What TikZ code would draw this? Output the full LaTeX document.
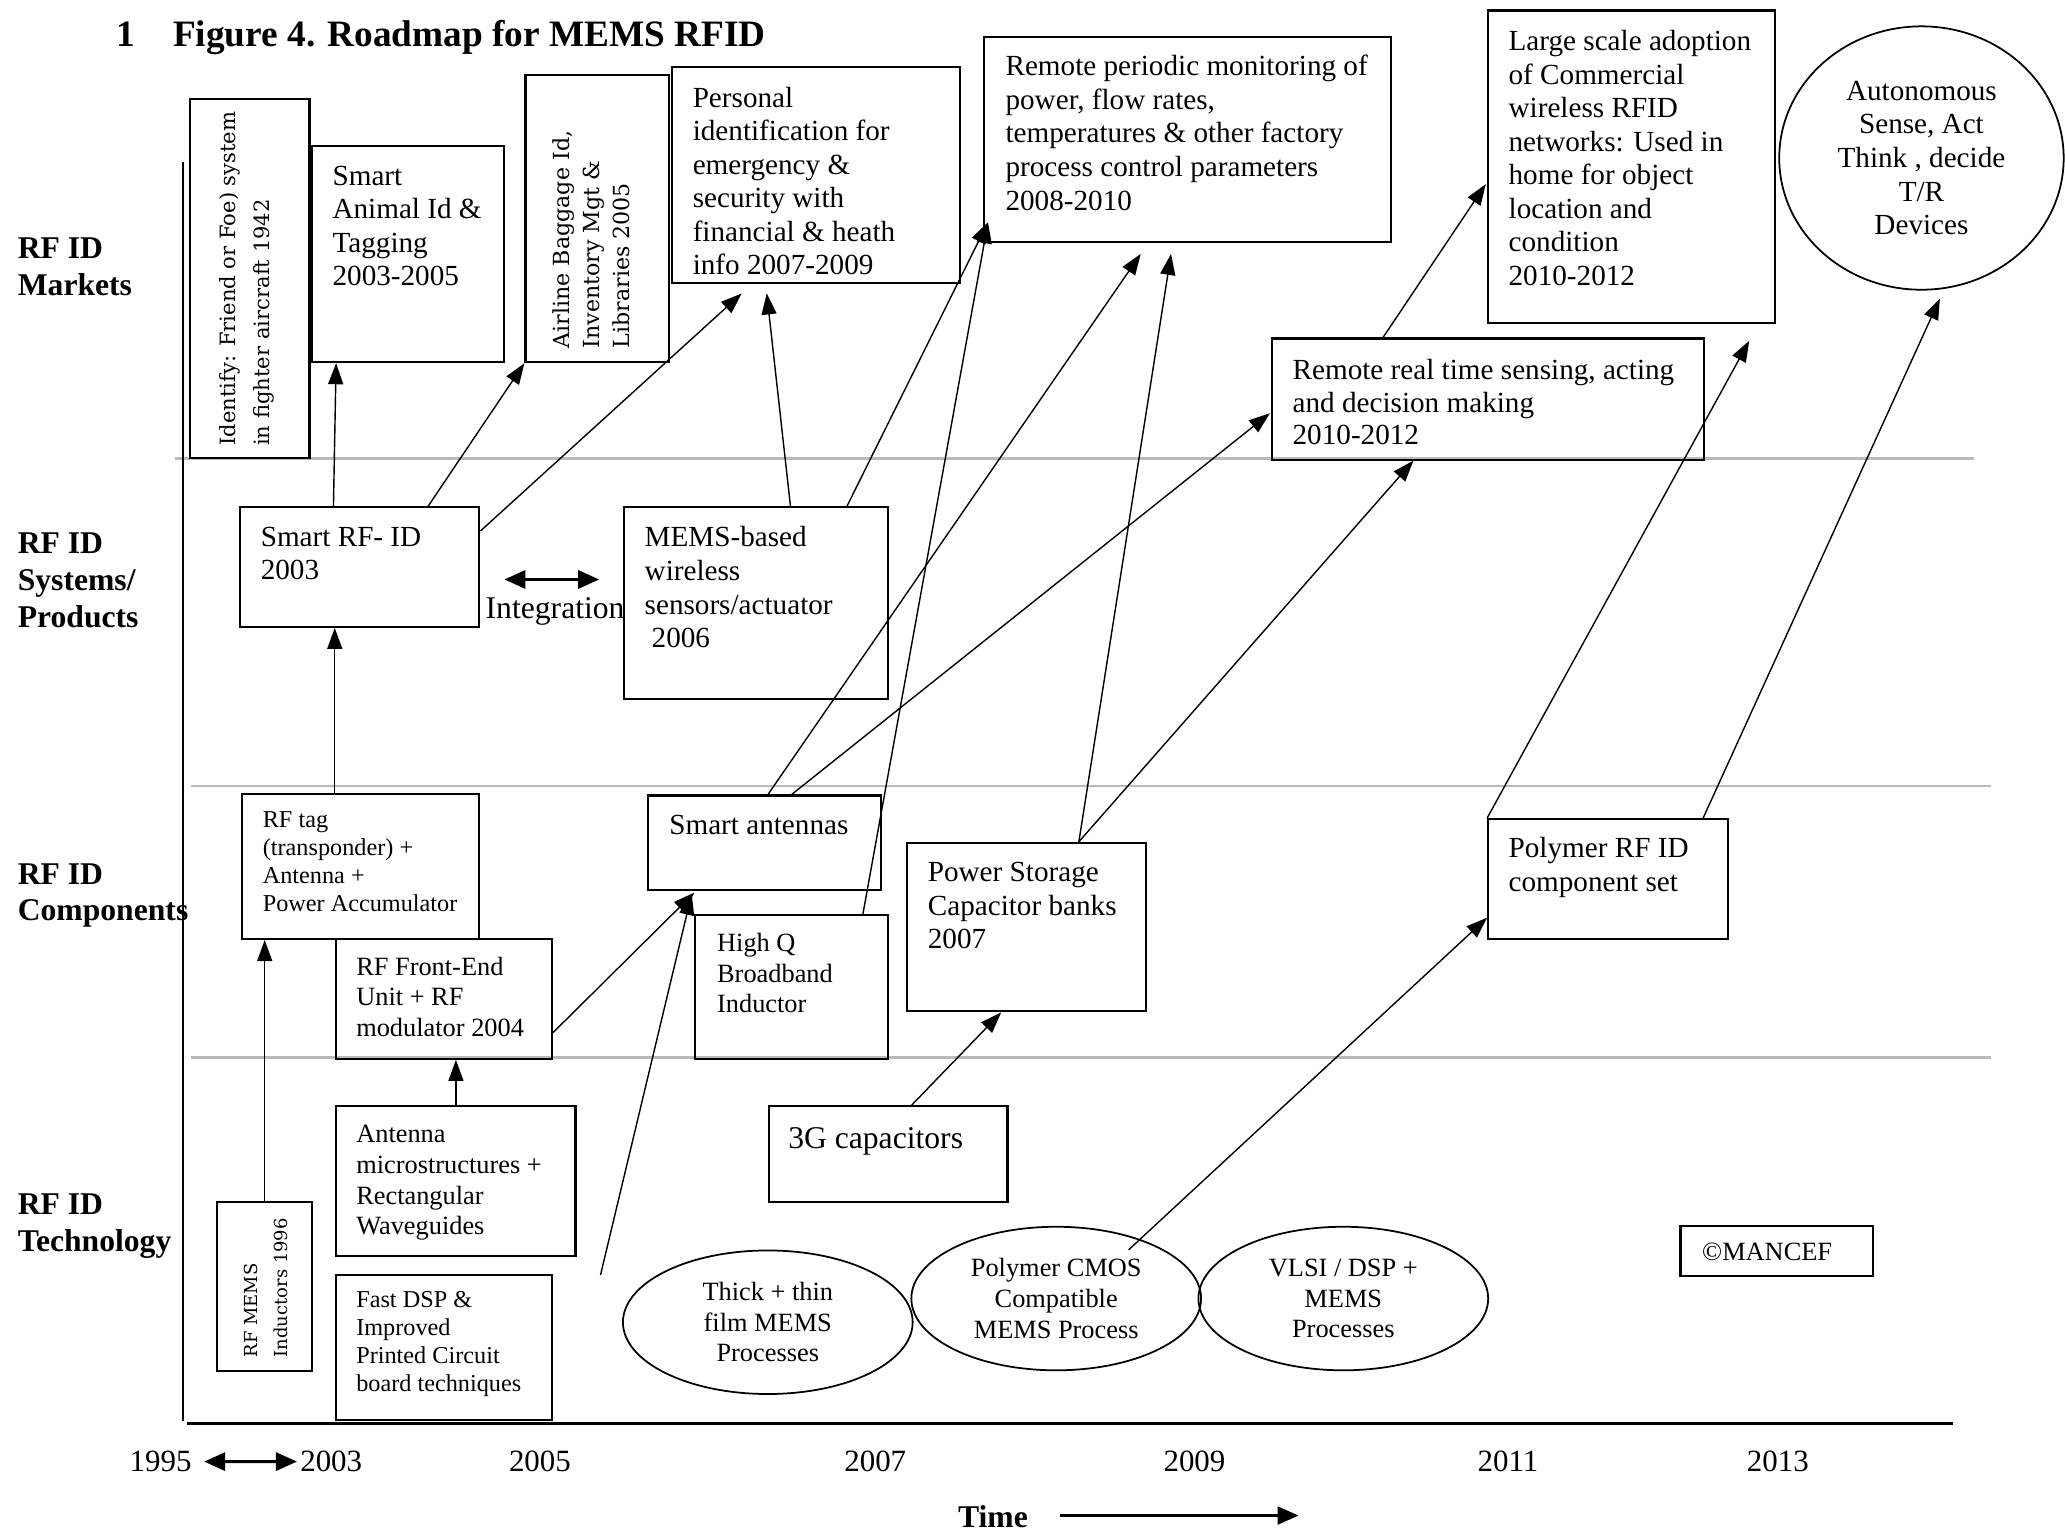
\documentclass[tikz,border=0pt]{standalone}
\usepackage{fontspec}
\setmainfont{Liberation Serif}
\newfontfamily\rotserif{DejaVu Serif}
\usetikzlibrary{arrows.meta,calc,fit,shapes.geometric}

\newcommand{\pxu}{0.013169cm}
\newcommand{\txtbody}{\fontsize{8.3}{9.55}\selectfont}
\newcommand{\txtmid}{\fontsize{7.5}{8.7}\selectfont}
\newcommand{\txtsmall}{\fontsize{6.9}{8}\selectfont}
\newcommand{\txtbig}{\fontsize{9}{10.5}\selectfont}
\newcommand{\txtrot}{\rotserif\fontsize{6}{9.7}\selectfont}

\begin{document}
\begin{tikzpicture}[x=0.013169cm, y=-0.013169cm,
	box/.style={draw, line width=0.6pt, inner sep=0pt},
	oval/.style={draw, ellipse, line width=0.5pt, inner sep=0pt, minimum width=220*\pxu, minimum height=109*\pxu, align=center, font=\txtmid},
	txt/.style={anchor=north west, align=left, inner sep=0pt, font=\txtbody},
	rot/.style={anchor=north west, align=left, inner sep=0pt, rotate=90, font=\txtrot},
	lab/.style={anchor=north west, align=left, inner sep=0pt, font=\fontsize{9}{10.5}\selectfont\bfseries},
	yr/.style={anchor=base, inner sep=0pt, font=\fontsize{8.8}{10}\selectfont},
	lane/.style={black!27, line width=0.7pt},
	arr/.style={-{Triangle[length=2.1mm,width=1.5mm]}, line width=0.4pt},
	darr/.style={{Triangle[length=2.1mm,width=1.8mm]}-{Triangle[length=2.1mm,width=1.8mm]}, line width=0.9pt},
]
	\useasboundingbox (0,0) rectangle (1568,1164);

	\draw[lane] (133,348) -- (1499,348);
	\draw[lane] (145,597) -- (1512,597);
	\draw[lane] (145,803) -- (1512,803);
	\draw[line width=0.5pt] (139,123) -- (139,1079);
	\draw[line width=0.8pt] (142,1081) -- (1483,1081);

	\node[anchor=base west, inner sep=0pt, font=\fontsize{10.6}{12}\selectfont\bfseries] (num) at (88,35.5) {1};
	\node[anchor=base west, inner sep=0pt, font=\fontsize{10.6}{12}\selectfont\bfseries] (title) at (131,35.5) {Figure 4. Roadmap for MEMS RFID};

	\node[lab] (markets) at (13,180) {RF ID\\Markets};
	\node[lab] (systems) at (13,404) {RF ID\\Systems/\\Products};
	\node[lab] (comps) at (13,655) {RF ID\\Components};
	\node[lab] (tech) at (13,906) {RF ID\\Technology};

	% markets
	\node[box, fit={(144,75) (235,348)}] (iff) {};
	\node[rot] (iff-t) at (166,339) {Identify: Friend or Foe) system\\in fighter aircraft 1942};
	\node[box, fit={(399,57) (508,275)}] (airline) {};
	\node[rot, font=\rotserif\fontsize{6.3}{8.6}\selectfont] (airline-t) at (419,265) {Airline Baggage Id,\\Inventory Mgt \&\\Libraries 2005};
	\node[box, fit={(237,111) (383,275)}] (animal) {};
	\node[txt] (animal-t) at (252,125.4) {Smart\\Animal Id \&\\Tagging\\2003-2005};
	\node[box, fit={(510,51) (729,215)}] (personal) {};
	\node[txt] (personal-t) at (525.5,65.4) {Personal\\identification for\\emergency \&\\security with\\financial \& heath\\info 2007-2009};
	\node[box, fit={(747,28) (1056,184)}] (periodic) {};
	\node[txt] (periodic-t) at (763,41.4) {Remote periodic monitoring of\\power, flow rates,\\temperatures \& other factory\\process control parameters\\2008-2010};
	\node[box, fit={(1130,8) (1348,245)}] (adoption) {};
	\node[txt] (adoption-t) at (1145,22.4) {Large scale adoption\\of Commercial\\wireless RFID\\networks: Used in\\home for object\\location and\\condition\\2010-2012};
	\node[oval, font=\txtbody, minimum width=216*\pxu, minimum height=200*\pxu] (autonomous) at (1459,120) {Autonomous\\Sense, Act\\Think , decide\\T/R\\Devices};
	\node[box, fit={(966,257) (1294,349)}] (realtime) {};
	\node[txt, font=\fontsize{8.3}{9.2}\selectfont] (realtime-t) at (981,272.4) {Remote real time sensing, acting\\and decision making\\2010-2012};

	% systems / products
	\node[box, fit={(182,385) (364,476)}] (smartrf) {};
	\node[txt] (smartrf-t) at (197.5,399.4) {Smart RF- ID\\2003};
	\node[box, fit={(474,385) (674,531)}] (memsbased) {};
	\node[txt] (memsbased-t) at (489,399.4) {MEMS-based\\wireless\\sensors/actuator\\\hspace*{2pt}2006};
	\coordinate (intl) at (383,440);
	\coordinate (intr) at (455,440);
	\draw[darr] (intl) -- (intr);
	\node[anchor=base, inner sep=0pt, font=\txtbig] (integ) at (421.5,469.6) {Integration};

	% components
	\node[box, fit={(184,603) (364,713)}] (rftag) {};
	\node[txt, font=\txtsmall] (rftag-t) at (199,615.7) {RF tag\\(transponder) +\\Antenna +\\Power Accumulator};
	\node[box, fit={(255,713) (419,804)}] (frontend) {};
	\node[txt, font=\txtmid] (frontend-t) at (270,726.1) {RF Front-End\\Unit + RF\\modulator 2004};
	\node[box, fit={(492,604) (669,676)}] (antennas) {};
	\node[txt] (antennas-t) at (507.7,618.4) {Smart antennas};
	\node[box, fit={(528,695) (674,804)}] (highq) {};
	\node[txt, font=\txtmid] (highq-t) at (544,708.1) {High Q\\Broadband\\Inductor};
	\node[box, fit={(689,640) (870,768)}] (powerstore) {};
	\node[txt] (powerstore-t) at (704,654.4) {Power Storage\\Capacitor banks\\2007};
	\node[box, fit={(1130,622) (1312,713)}] (polyrfid) {};
	\node[txt] (polyrfid-t) at (1145,635.4) {Polymer RF ID\\component set};

	% technology
	\node[box, fit={(165,913) (237,1041)}] (rfmems) {};
	\node[rot, font=\rotserif\fontsize{5.1}{8.6}\selectfont] (rfmems-t) at (185,1031) {RF MEMS\\Inductors 1996};
	\node[box, fit={(255,840) (437,954)}] (antstruct) {};
	\node[txt, font=\txtmid] (antstruct-t) at (270,854.1) {Antenna\\microstructures +\\Rectangular\\Waveguides};
	\node[box, fit={(255,968) (419,1078)}] (fastdsp) {};
	\node[txt, font=\txtsmall] (fastdsp-t) at (270,979.7) {Fast DSP \&\\Improved\\Printed Circuit\\board techniques};
	\node[box, fit={(584,840) (765,913)}] (capacitors) {};
	\node[txt, font=\txtbig] (capacitors-t) at (598,855.8) {3G capacitors};
	\node[oval] (thickthin) at (583,1004) {Thick + thin\\film MEMS\\Processes};
	\node[oval] (polycmos) at (802,986) {Polymer CMOS\\Compatible\\MEMS Process};
	\node[oval] (vlsi) at (1020,986) {VLSI / DSP +\\MEMS\\Processes};
	\node[box, fit={(1276,931) (1422,969)}] (mancef) {};
	\node[txt, font=\txtmid] (mancef-t) at (1292,943.1) {©MANCEF};

	% time axis
	\node[yr] (y1995) at (122,1117.5) {1995};
	\node[yr] (y2003) at (251.5,1117.5) {2003};
	\node[yr] (y2005) at (410,1117.5) {2005};
	\node[yr] (y2007) at (664.6,1117.5) {2007};
	\node[yr] (y2009) at (907,1117.5) {2009};
	\node[yr] (y2011) at (1145,1117.5) {2011};
	\node[yr] (y2013) at (1350,1117.5) {2013};
	\draw[darr] ($(y1995.east)+(9,0)$) -- ($(y2003.west)+(-2,0)$);
	\node[anchor=base west, inner sep=0pt, font=\fontsize{9}{10}\selectfont\bfseries] (time) at (727,1160) {Time};
	\draw[-{Triangle[length=2.1mm,width=1.8mm]}, line width=0.6pt] ($(time.east)+(24,-1)$) -- ($(time.east)+(205,-1)$);

	% connectors
	\draw[arr] (rfmems.north) -- (rfmems.north |- rftag.south);
	\draw[arr] ($(rftag.north west)+(71,0)$) -- ($(smartrf.south west)+(73,0)$);
	\draw[arr] ($(smartrf.north west)+(72,0)$) -- ($(animal.south west)+(19,0)$);
	\draw[arr] ($(smartrf.north west)+(144,0)$) -- (airline.south west);
	\draw[arr] ($(smartrf.north east)+(0,19)$) -- ($(personal.south west)+(54,7)$);
	\draw[arr] ($(memsbased.north west)+(127,0)$) -- ($(personal.south west)+(73,7)$);
	\draw[arr] ($(memsbased.north west)+(170,0)$) -- ($(periodic.south west)+(4,-16)$);
	\draw[arr] ($(highq.north west)+(128,0)$) -- ($(periodic.south west)+(4,-16)$);
	\draw[arr] ($(antennas.north west)+(92,0)$) -- ($(periodic.south west)+(120,8)$);
	\draw[arr] ($(antennas.north west)+(110,0)$) -- ($(realtime.south west)+(-1,-36)$);
	\draw[arr] ($(powerstore.north west)+(131,0)$) -- ($(periodic.south west)+(143,8)$);
	\draw[arr] ($(powerstore.north west)+(131,0)$) -- ($(realtime.south west)+(108,0)$);
	\draw[arr] ($(frontend.north east)+(0,72)$) -- ($(antennas.south west)+(36,1)$);
	\coordinate (free) at (456,968);
	\draw[arr] (free) -- ($(antennas.south west)+(34,2)$);
	\draw[arr] ($(antstruct.north west)+(92,0)$) -- ($(frontend.south west)+(92,0)$);
	\draw[arr] ($(capacitors.north west)+(109,0)$) -- ($(powerstore.south west)+(72,0)$);
	\draw[arr] ($(polycmos.center)+(55,-37)$) -- ($(polyrfid.south west)+(0,-17)$);
	\draw[arr] (polyrfid.north west) -- ($(adoption.south west)+(199,13)$);
	\draw[arr] ($(polyrfid.north west)+(164,0)$) -- ($(autonomous.south)+(14,6)$);
	\draw[arr] ($(realtime.north west)+(85,0)$) -- ($(adoption.south west)+(-1,-106)$);
\end{tikzpicture}
\end{document}
